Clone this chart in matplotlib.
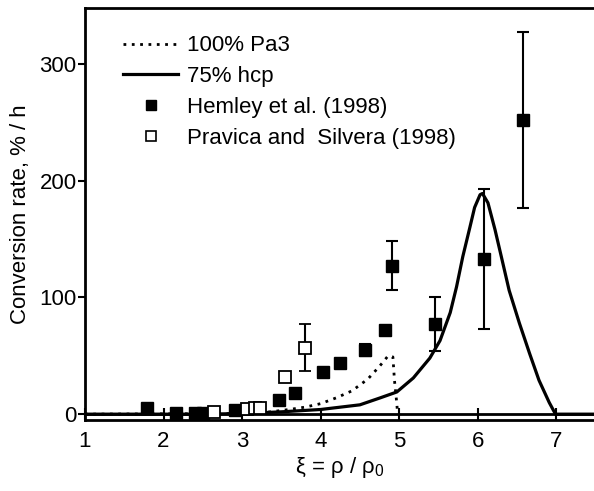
import numpy as np
import matplotlib
matplotlib.use("Agg")
import matplotlib.pyplot as plt
from matplotlib.lines import Line2D

plt.rcParams["font.family"] = ["Liberation Sans", "DejaVu Sans"]
plt.rcParams["mathtext.fontset"] = "custom"
plt.rcParams["mathtext.rm"] = "Liberation Sans"
plt.rcParams["mathtext.it"] = "Liberation Sans"

# model curves
pa3_x = [1.0, 3.0, 3.3, 3.6, 3.8, 4.0, 4.2, 4.4, 4.6, 4.75, 4.86, 4.92, 4.94, 4.97, 4.98]
pa3_y = [0, 0.5, 1.5, 4, 6, 9, 14, 20, 30, 41, 50, 49, 29, 9, 0]

hcp_x = [1.0, 2.5, 3.0, 3.5, 4.0, 4.5, 4.76, 4.97, 5.18, 5.39, 5.52, 5.65, 5.73,
         5.81, 5.90, 5.96, 6.03, 6.06, 6.13, 6.22, 6.30, 6.40, 6.53, 6.66,
         6.78, 6.91, 6.99, 7.5]
hcp_y = [0, 0, 0.5, 2, 4, 8, 14, 19, 31, 48, 63, 87, 109,
         135, 160, 177, 188, 189, 181, 158, 135, 106, 78, 52,
         29, 10, 0, 0]

# Hemley et al. (1998)
hem_x = [1.79, 2.16, 2.40, 2.50, 2.91, 3.47, 3.67, 4.03, 4.25, 4.56, 4.82, 4.91, 5.46, 6.08, 6.57]
hem_y = [5, 1, 1, 1, 3.5, 12, 18, 36, 44, 55, 72, 127, 77, 133, 252]
hem_err = [0, 0, 0, 0, 0, 0, 0, 0, 0, 5, 0, 21, 23, 60, 75]

# Pravica and Silvera (1998)
prav_x = [2.64, 3.06, 3.17, 3.23, 3.55, 3.80]
prav_y = [2, 4, 5, 5, 32, 57]
prav_err = [0, 0, 0, 0, 0, 20]

labels = ["100% Pa3", "75% hcp", "Hemley et al. (1998)", "Pravica and  Silvera (1998)"]

fig = plt.figure(figsize=(5.94, 4.91), dpi=100)
ax = fig.add_axes([0.143, 0.1446, 0.857, 0.8394])

ax.axhline(0, color="black", lw=2, zorder=1)
ax.plot(pa3_x, pa3_y, color="black", lw=2, linestyle=(0, (1, 2)))
ax.plot(hcp_x, hcp_y, color="black", lw=2.3)

ax.errorbar(hem_x, hem_y, yerr=hem_err, fmt="s", color="black", ms=9,
            mfc="black", mec="black", elinewidth=1.5, capsize=4, capthick=1.5)
ax.errorbar(prav_x, prav_y, yerr=prav_err, fmt="s", color="black", ms=8,
            mfc="white", mec="black", mew=1.3, elinewidth=1.5, capsize=4, capthick=1.5)

ax.set_xlim(1, 7.48)
ax.set_ylim(-5, 348)
ax.set_xticks([1, 2, 3, 4, 5, 6, 7])
ax.set_yticks([0, 100, 200, 300])

for s in ["left", "bottom", "top"]:
    ax.spines[s].set_linewidth(2)
ax.spines["right"].set_visible(False)

ax.tick_params(axis="x", direction="in", length=9, width=1.5, labelsize=16, pad=8)
ax.tick_params(axis="y", direction="out", length=5, width=1.5, labelsize=16, pad=1)

ax.set_xlabel(r"ξ = ρ / ρ$_0$", fontsize=16, labelpad=2)
ax.set_ylabel("Conversion rate, % / h", fontsize=16, labelpad=6)

handles = [
    Line2D([], [], color="black", lw=2, linestyle=(0, (1, 2))),
    Line2D([], [], color="black", lw=2.3),
    Line2D([], [], linestyle="none", marker="s", ms=7, mfc="black", mec="black"),
    Line2D([], [], linestyle="none", marker="s", ms=7, mfc="white", mec="black", mew=1.2),
]
ax.legend(handles, labels, loc="upper left", bbox_to_anchor=(0.057, 0.955),
          frameon=False, fontsize=16, handlelength=2.5, handletextpad=0.4,
          labelspacing=0.44, borderaxespad=0)

fig.savefig("out.png", dpi=100)
